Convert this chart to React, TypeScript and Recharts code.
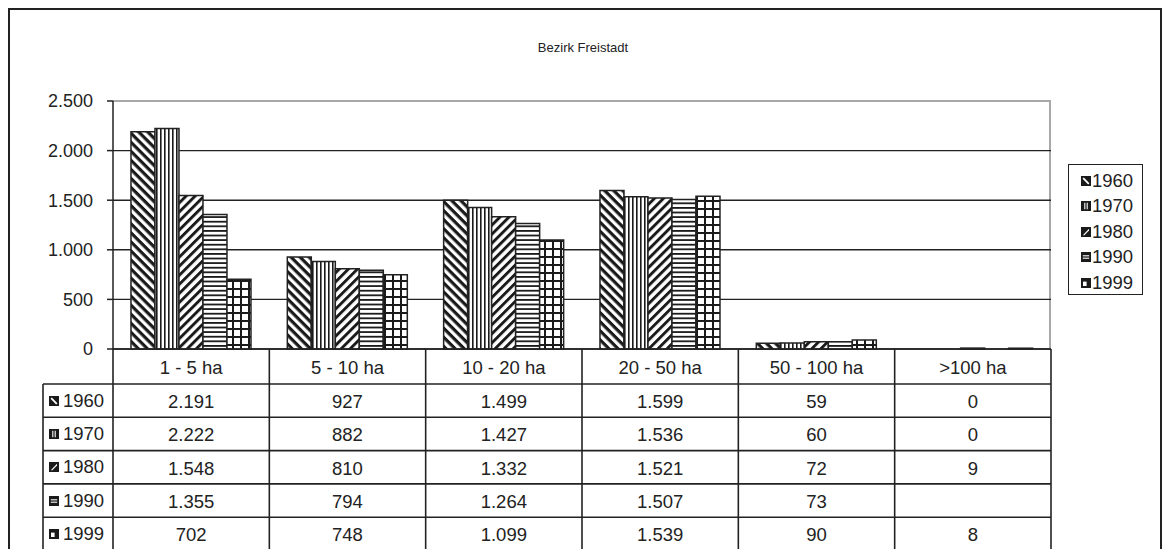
import React from 'react';
import { BarChart, Bar, XAxis, YAxis, CartesianGrid } from 'recharts';

const categories = ['1 - 5 ha', '5 - 10 ha', '10 - 20 ha', '20 - 50 ha', '50 - 100 ha', '>100 ha'];
const years = ['1960', '1970', '1980', '1990', '1999'];
const v1960: (number | null)[] = [2191, 927, 1499, 1599, 59, 0];
const v1970: (number | null)[] = [2222, 882, 1427, 1536, 60, 0];
const v1980: (number | null)[] = [1548, 810, 1332, 1521, 72, 9];
const v1990: (number | null)[] = [1355, 794, 1264, 1507, 73, null];
const v1999: (number | null)[] = [702, 748, 1099, 1539, 90, 8];
const seriesValues = [v1960, v1970, v1980, v1990, v1999];
const yTicks = [0, 500, 1000, 1500, 2000, 2500];
const title = 'Bezirk Freistadt';

const data = categories.map((c, i) => {
  const row: Record<string, any> = { cat: c };
  years.forEach((y, k) => {
    row['y' + y] = seriesValues[k][i];
  });
  return row;
});

const fmt = (n: number | null) =>
  n === null || n === undefined ? '' : String(n).replace(/\B(?=(\d{3})+(?!\d))/g, '.');

const FONT = '"Liberation Sans", Arial, Helvetica, sans-serif';
const INK = '#222';
const TABLE_FS = 18.5;
const TICK_FS = 18;
const LEGEND_FS = 18.5;

// layout
const W = 1166;
const H = 549;
const PL = 113;
const PR = 1051;
const PT = 101;
const PB = 349;
const colW = (PR - PL) / categories.length;
const headerBottom = 384;
const rowH = 33.3;
const labelLeft = 43;

const Icon = ({ year }: { year: string }) => {
  const s = 10;
  let inner: React.ReactNode = null;
  if (year === '1960') inner = <line x1={2.2} y1={2.2} x2={7.8} y2={7.8} stroke="#fff" strokeWidth={1.8} />;
  if (year === '1970')
    inner = (
      <g stroke="#fff" strokeWidth={1.1}>
        <line x1={3.8} y1={1.8} x2={3.8} y2={8.2} />
        <line x1={6.2} y1={1.8} x2={6.2} y2={8.2} />
      </g>
    );
  if (year === '1980') inner = <path d="M8 1.8 L8 3.4 L3.4 8.2 L1.8 8.2 Z" fill="#fff" />;
  if (year === '1990')
    inner = (
      <g stroke="#fff" strokeWidth={1.1}>
        <line x1={1.8} y1={3.8} x2={8.2} y2={3.8} />
        <line x1={1.8} y1={6.2} x2={8.2} y2={6.2} />
      </g>
    );
  if (year === '1999') inner = <rect x={2} y={3.6} width={3.6} height={4.4} fill="#fff" />;
  return (
    <svg width={s} height={s} style={{ display: 'block', flex: 'none' }}>
      <rect x={0} y={0} width={s} height={s} fill="#1a1a1a" />
      {inner}
    </svg>
  );
};

const Patterns = () => (
  <svg width={0} height={0} style={{ position: 'absolute', left: 0, top: 0 }}>
    <defs>
      <pattern id="p1960" patternUnits="userSpaceOnUse" width={6.4} height={6.4} patternTransform="rotate(45)">
        <rect width={6.4} height={6.4} fill="#fff" />
        <rect width={6.4} height={3.2} fill="#1a1a1a" />
      </pattern>
      <pattern id="p1970" patternUnits="userSpaceOnUse" width={4} height={4}>
        <rect width={4} height={4} fill="#fff" />
        <rect width={1.6} height={4} fill="#1a1a1a" />
      </pattern>
      <pattern id="p1980" patternUnits="userSpaceOnUse" width={6.4} height={6.4} patternTransform="rotate(-45)">
        <rect width={6.4} height={6.4} fill="#fff" />
        <rect width={6.4} height={2.9} fill="#1a1a1a" />
      </pattern>
      <pattern id="p1990" patternUnits="userSpaceOnUse" width={4.6} height={4.6}>
        <rect width={4.6} height={4.6} fill="#fff" />
        <rect width={4.6} height={1.8} fill="#1a1a1a" />
      </pattern>
      <pattern id="p1999" patternUnits="userSpaceOnUse" width={8} height={8}>
        <rect width={8} height={8} fill="#fff" />
        <rect width={2} height={8} fill="#1a1a1a" />
        <rect width={8} height={2} fill="#1a1a1a" />
      </pattern>
    </defs>
  </svg>
);

const Table = () => {
  const lines: React.ReactNode[] = [];
  const bottom = H + 5;
  lines.push(<line key="ht" x1={PL} y1={PB} x2={PR} y2={PB} />);
  for (let r = 0; r <= years.length; r++) {
    const y = headerBottom + r * rowH;
    lines.push(<line key={'h' + r} x1={labelLeft} y1={y} x2={PR} y2={y} />);
  }
  lines.push(<line key="vl" x1={labelLeft} y1={headerBottom} x2={labelLeft} y2={bottom} />);
  for (let c = 0; c <= categories.length; c++) {
    const x = PL + c * colW;
    lines.push(<line key={'v' + c} x1={x} y1={PB} x2={x} y2={bottom} />);
  }
  return (
    <>
      <svg width={W} height={H} style={{ position: 'absolute', left: 0, top: 0, pointerEvents: 'none' }}>
        <g stroke={INK} strokeWidth={1.6}>{lines}</g>
      </svg>
      {categories.map((c, i) => (
        <div
          key={'hd' + i}
          style={{
            position: 'absolute',
            left: PL + i * colW,
            top: PB + 1,
            width: colW,
            height: headerBottom - PB,
            lineHeight: `${headerBottom - PB}px`,
            textAlign: 'center',
            fontSize: TABLE_FS,
            color: INK,
          }}
        >
          {c}
        </div>
      ))}
      {years.map((y, r) => (
        <React.Fragment key={'row' + y}>
          <div
            style={{
              position: 'absolute',
              left: labelLeft + 6,
              top: headerBottom + r * rowH,
              height: rowH,
              display: 'flex',
              alignItems: 'center',
              fontSize: TABLE_FS,
              color: INK,
            }}
          >
            <Icon year={y} />
            <span style={{ marginLeft: 4 }}>{y}</span>
          </div>
          {categories.map((c, i) => (
            <div
              key={'cell' + y + i}
              style={{
                position: 'absolute',
                left: PL + i * colW,
                top: headerBottom + r * rowH + 1,
                width: colW,
                height: rowH,
                lineHeight: `${rowH}px`,
                textAlign: 'center',
                fontSize: TABLE_FS,
                color: INK,
              }}
            >
              {fmt(seriesValues[r][i])}
            </div>
          ))}
        </React.Fragment>
      ))}
    </>
  );
};

const Legend = () => (
  <div
    style={{
      position: 'absolute',
      left: 1068,
      top: 164,
      width: 75,
      height: 131,
      border: `1.5px solid ${INK}`,
      boxSizing: 'border-box',
      paddingTop: 3,
    }}
  >
    {years.map((y) => (
      <div
        key={y}
        style={{ display: 'flex', alignItems: 'center', height: 25.5, paddingLeft: 12, fontSize: LEGEND_FS, color: INK }}
      >
        <Icon year={y} />
        <span style={{ marginLeft: 1 }}>{y}</span>
      </div>
    ))}
  </div>
);

export default function App() {
  return (
    <div
      style={{
        position: 'absolute',
        left: 0,
        top: 0,
        width: W,
        height: H,
        overflow: 'hidden',
        background: '#fff',
        fontFamily: FONT,
      }}
    >
      <Patterns />
      <div
        style={{
          position: 'absolute',
          left: 8,
          top: 8,
          width: 1154,
          height: 600,
          border: `2px solid ${INK}`,
          boxSizing: 'border-box',
        }}
      />
      <div
        style={{
          position: 'absolute',
          left: 0,
          top: 40,
          width: W,
          textAlign: 'center',
          fontSize: 13,
          color: INK,
        }}
      >
        {title}
      </div>
      <div
        style={{
          position: 'absolute',
          left: PL,
          top: PT - 1,
          width: PR - PL,
          height: PB - PT,
          borderTop: '2px solid #a8a8a8',
          borderRight: '2px solid #a8a8a8',
          boxSizing: 'border-box',
        }}
      />
      <div style={{ position: 'absolute', left: 0, top: 0 }}>
        <BarChart
          width={W}
          height={H}
          data={data}
          margin={{ top: PT, right: W - PR, bottom: H - PB, left: PL - 80 }}
          barCategoryGap="11.5%"
          barGap={0}
        >
          <CartesianGrid
            vertical={false}
            horizontalValues={[0, 500, 1000, 1500, 2000]}
            stroke={INK}
            strokeWidth={1.4}
          />
          <XAxis dataKey="cat" hide />
          <YAxis
            width={80}
            domain={[0, 2500]}
            ticks={yTicks}
            interval={0}
            tickFormatter={(v: number) => fmt(v)}
            axisLine={{ stroke: INK, strokeWidth: 1.5 }}
            tickLine={{ stroke: INK, strokeWidth: 1.5 }}
            tickSize={6}
            tickMargin={14}
            tick={{ fontSize: TICK_FS, fill: INK, fontFamily: FONT }}
          />
          {years.map((y) => (
            <Bar
              key={y}
              dataKey={'y' + y}
              name={y}
              fill={`url(#p${y})`}
              stroke={INK}
              strokeWidth={1.5}
              isAnimationActive={false}
            />
          ))}
        </BarChart>
      </div>
      <Table />
      <Legend />
    </div>
  );
}
